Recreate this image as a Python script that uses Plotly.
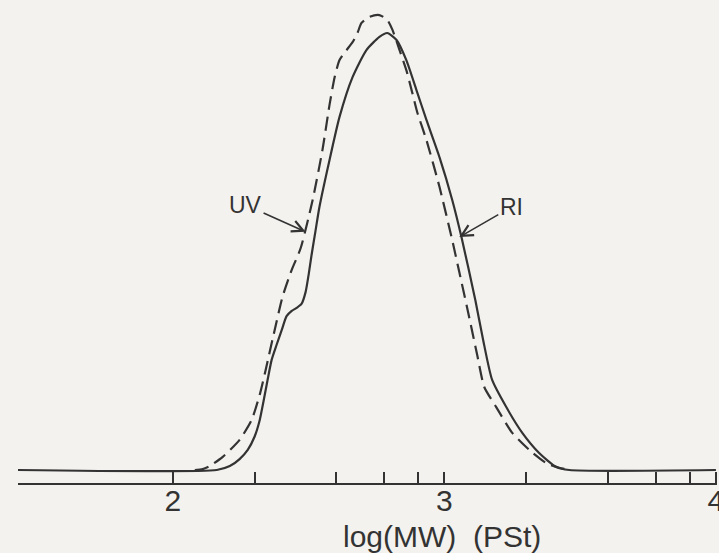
import math
import plotly.graph_objects as go

# log(MW) (PSt) positions and normalised detector response
ri_logmw = [1.43, 2.162, 2.210, 2.246, 2.276, 2.301, 2.320, 2.335, 2.349, 2.364, 2.382,
            2.401, 2.419, 2.438, 2.456, 2.474, 2.489, 2.500, 2.511, 2.526, 2.540, 2.577,
            2.614, 2.662, 2.713, 2.761, 2.790, 2.824, 2.860, 2.897, 2.934, 2.982, 3.029,
            3.063, 3.114, 3.143, 3.176, 3.228, 3.287, 3.349, 3.412, 3.460, 4.0]
ri_signal = [0.0, 0.0, 0.009, 0.025, 0.046, 0.076, 0.114, 0.160, 0.206, 0.252, 0.286,
             0.320, 0.352, 0.364, 0.371, 0.380, 0.407, 0.446, 0.492, 0.549, 0.602, 0.709,
             0.808, 0.899, 0.961, 0.991, 1.000, 0.984, 0.938, 0.870, 0.801, 0.716, 0.618,
             0.533, 0.389, 0.297, 0.206, 0.144, 0.085, 0.039, 0.007, 0.0, 0.0]

uv_logmw = [2.081, 2.110, 2.136, 2.184, 2.246, 2.290, 2.320, 2.342, 2.375, 2.404, 2.438,
            2.471, 2.515, 2.551, 2.577, 2.596, 2.614, 2.640, 2.662, 2.680, 2.695, 2.724,
            2.761, 2.790, 2.809, 2.835, 2.860, 2.882, 2.901, 2.934, 2.982, 3.029, 3.055,
            3.092, 3.121, 3.147, 3.191, 3.250, 3.3125, 3.375, 3.423, 3.467]
uv_signal = [0.0, 0.002, 0.009, 0.030, 0.069, 0.114, 0.172, 0.229, 0.320, 0.396, 0.458,
             0.508, 0.618, 0.732, 0.835, 0.899, 0.938, 0.961, 0.979, 1.000, 1.023, 1.037,
             1.041, 1.030, 1.007, 0.961, 0.915, 0.863, 0.817, 0.755, 0.648, 0.526, 0.453,
             0.348, 0.263, 0.190, 0.144, 0.085, 0.046, 0.016, 0.005, 0.0]

tick_mw = [100, 200, 400, 600, 800, 1000, 2000, 4000, 6000, 8000, 10000]
tick_labels = ["2", "", "", "", "", "3", "", "", "", "", "4"]
axis_title = "log(MW)  (PSt)"

ink = "#333333"
bg = "#f4f2ef"
font = "Liberation Sans"

fig = go.Figure()
fig.add_trace(go.Scatter(x=ri_logmw, y=ri_signal, mode="lines", name="RI",
                         line=dict(color=ink, width=2.2, shape="spline", smoothing=0.6)))
fig.add_trace(go.Scatter(x=uv_logmw, y=uv_signal, mode="lines", name="UV",
                         line=dict(color=ink, width=2.2, dash="14px,7px", shape="spline", smoothing=0.6)))

fig.add_annotation(x=2.489, y=0.545, xref="x", yref="y", text="UV", showarrow=True,
                   ax=-60, ay=-27, arrowhead=5, arrowsize=1.4, arrowwidth=1.6, arrowcolor=ink,
                   font=dict(family=font, size=23, color=ink))
fig.add_annotation(x=3.055, y=0.533, xref="x", yref="y", text="RI", showarrow=True,
                   ax=52, ay=-30, arrowhead=5, arrowsize=1.4, arrowwidth=1.6, arrowcolor=ink,
                   font=dict(family=font, size=23, color=ink))
# axis title, centred under the "3" tick as in the original
fig.add_annotation(x=2.99, y=-0.073, xref="x", yref="paper", text=axis_title, showarrow=False,
                   xanchor="center", yanchor="top",
                   font=dict(family=font, size=30, color=ink))

fig.update_layout(
    width=719, height=553,
    margin=dict(l=18, r=2, t=0, b=70),
    paper_bgcolor=bg, plot_bgcolor=bg,
    showlegend=False,
    xaxis=dict(
        range=[1.43, 4.004],
        tickvals=[math.log10(v) for v in tick_mw],
        ticktext=tick_labels,
        ticks="inside", ticklen=11, tickwidth=1.6, tickcolor=ink,
        ticklabelstandoff=-10,
        ticklabeloverflow="allow",
        showline=True, linecolor=ink, linewidth=2,
        showgrid=False, zeroline=False,
        tickfont=dict(family=font, size=30, color=ink),
        automargin=False,
    ),
    yaxis=dict(
        range=[-0.02975, 1.0755],
        visible=False, showgrid=False, zeroline=False,
    ),
)

fig.write_html("out.html", config={"displayModeBar": False},
               post_script="document.body.style.margin='0';document.body.style.background='%s';" % bg)
